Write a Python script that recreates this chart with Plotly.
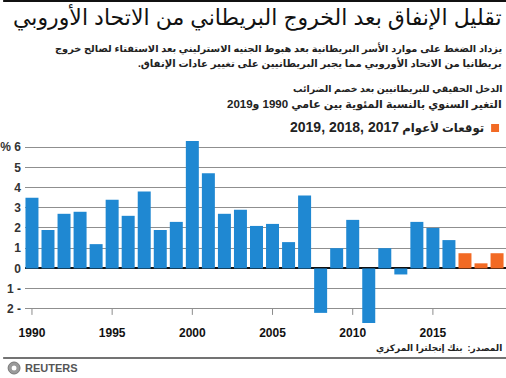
import plotly.graph_objects as go

# ---- data ----
actual_years = list(range(1990, 2017))
actual_values = [3.5, 1.9, 2.7, 2.8, 1.2, 3.4, 2.6, 3.8, 1.9, 2.3,
                 6.3, 4.7, 2.7, 2.9, 2.1, 2.2, 1.3, 3.6, -2.2, 1.0,
                 2.4, -2.7, 1.0, -0.3, 2.3, 2.0, 1.4]
forecast_years = [2017, 2018, 2019]
forecast_values = [0.75, 0.25, 0.75]
ytick_vals = [-2, -1, 0, 1, 2, 3, 4, 5, 6]
ytick_text = ["2 -", "1 -", "0", "1", "2", "3", "4", "5", "% 6"]
xtick_vals = [1990, 1995, 2000, 2005, 2010, 2015]
xtick_text = ["1990", "1995", "2000", "2005", "2010", "2015"]

title = "تقليل الإنفاق بعد الخروج البريطاني من الاتحاد الأوروبي"
sub1 = "يزداد الضغط على موارد الأسر البريطانية بعد هبوط الجنيه الاسترليني بعد الاستفتاء لصالح خروج"
sub2 = "بريطانيا من الاتحاد الأوروبي مما يجبر البريطانيين على تغيير عادات الإنفاق."
head1 = "الدخل الحقيقي للبريطانيين بعد خصم الضرائب"
head2_a = "التغير السنوي بالنسبة المئوية بين عامي"
head2_y1 = "1990"
head2_y2 = "2019"
legend_a = "توقعات لأعوام"
legend_years = "2017 ,2018 ,2019"
source = "المصدر:  بنك إنجلترا المركزي"

W, H = 506, 378
ML, MR, MT, MB = 22, 0, 140, 54
PW, PH = W - ML - MR, H - MT - MB

BLUE = "#1f88d2"
ORANGE = "#f26a24"
FONT = "Liberation Sans, Arial, DejaVu Sans, sans-serif"
RLM = "\u200f"


def px(x):
    return (x - ML) / PW


def py(y):
    return (H - MB - y) / PH


fig = go.Figure()
fig.add_trace(go.Bar(x=actual_years, y=actual_values, marker=dict(color=BLUE, line=dict(width=0)),
                     showlegend=False, hoverinfo="x+y"))
fig.add_trace(go.Bar(x=forecast_years, y=forecast_values, marker=dict(color=ORANGE, line=dict(width=0)),
                     showlegend=False, hoverinfo="x+y"))

shapes = []
shapes.append(dict(type="line", xref="paper", yref="paper", x0=px(0), x1=px(W), y0=py(1), y1=py(1),
                   line=dict(color="#111", width=2)))
shapes.append(dict(type="line", xref="paper", yref="paper", x0=px(0), x1=px(W), y0=py(358), y1=py(358),
                   line=dict(color="#444", width=1.5)))
for xv in xtick_vals:
    shapes.append(dict(type="line", xref="x", yref="y", x0=xv, x1=xv, y0=-2, y1=-2.3,
                       line=dict(color="#8c8c8c", width=1), layer="below"))
shapes.append(dict(type="rect", xref="paper", yref="paper", x0=px(491), x1=px(499), y0=py(132), y1=py(124),
                   fillcolor=ORANGE, line=dict(width=0)))
shapes.append(dict(type="circle", xref="paper", yref="paper", x0=px(5), x1=px(17), y0=py(374), y1=py(362),
                   fillcolor="#9a9a9a", line=dict(color="#777", width=1)))
shapes.append(dict(type="circle", xref="paper", yref="paper", x0=px(8.5), x1=px(13.5), y0=py(370.5), y1=py(365.5),
                   fillcolor="white", line=dict(width=0)))

anns = []


def add_text(text, x, y, size, bold=False, color="#111", xanchor="right"):
    t = f"<b>{text}</b>" if bold else text
    anns.append(dict(text=t, x=px(x), y=py(y), xref="paper", yref="paper", xanchor=xanchor, yanchor="middle",
                     showarrow=False, font=dict(family=FONT, size=size, color=color)))


def num(s, size):
    return f"<span style='font-size:{size}px'>{s}</span>"


add_text(RLM + title + RLM, 504, 18, 22, color="#111")
add_text(RLM + sub1 + RLM, 504, 49, 9.8, bold=True, color="#222")
add_text(RLM + sub2 + RLM, 504, 63, 10.1, bold=True, color="#222")
add_text(RLM + head1 + RLM, 504, 89, 9.4, bold=True, color="#222")
add_text(RLM + head2_a + " " + num(head2_y1, 11.5) + " و" + num(head2_y2, 11.5) + RLM, 504, 104, 11, bold=True, color="#222")
add_text(RLM + legend_a + " " + num(legend_years, 14) + RLM, 486, 128, 11.7, bold=True, color="#222")
add_text(RLM + source + RLM, 504, 348, 9, bold=True, color="#222")
add_text("REUTERS", 20, 368, 11, bold=True, color="#555", xanchor="left")

fig.update_layout(
    width=W, height=H,
    margin=dict(l=ML, r=MR, t=MT, b=MB, pad=0),
    paper_bgcolor="white", plot_bgcolor="white",
    barmode="overlay", bargap=0.19,
    shapes=shapes, annotations=anns,
    xaxis=dict(range=[1989.566, 2019.558], tickvals=xtick_vals, ticktext=xtick_text, ticks="",
               showgrid=False, zeroline=False, showline=False,
               tickfont=dict(family=FONT, size=12, color="#111"), ticklabelstandoff=0),
    yaxis=dict(range=[-2.75, 6.35], tickvals=ytick_vals, ticktext=ytick_text, ticks="",
               showgrid=True, gridcolor="#8f8f8f", gridwidth=1,
               zeroline=True, zerolinecolor="#111", zerolinewidth=2, showline=False,
               tickfont=dict(family=FONT, size=12, color="#333"), ticklabelstandoff=3),
    font=dict(family=FONT),
)
fig.update_xaxes(tickfont_weight="bold")
fig.update_yaxes(tickfont_weight="bold")

fig.write_html("out.html", config={"displayModeBar": False},
               post_script="document.body.style.margin='0';document.body.style.padding='0';document.body.style.overflow='hidden';")
